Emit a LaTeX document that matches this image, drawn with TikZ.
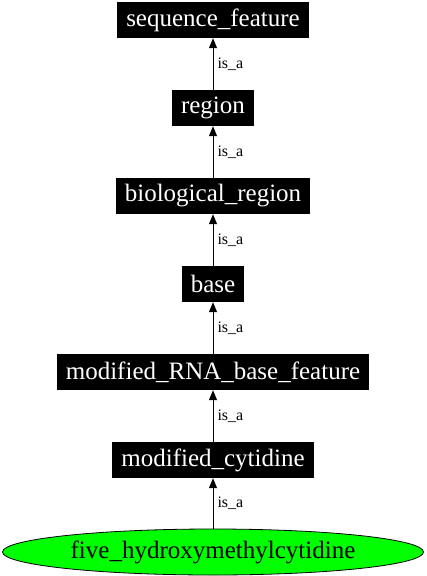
\documentclass[tikz,border=0pt]{standalone}
\usepackage{fontspec}
\setmainfont{Liberation Serif}
\usetikzlibrary{arrows.meta,shapes.geometric}

\begin{document}
\begin{tikzpicture}[x=1pt,y=1pt,
  termbox/.style={fill=black,text=white,inner xsep=9pt,inner ysep=0pt,minimum height=36pt,font=\fontsize{25}{30}\selectfont},
  leafnode/.style={ellipse,draw=black,line width=0.8pt,fill=green,minimum width=421pt,minimum height=46pt,inner sep=0pt,font=\fontsize{25}{30}\selectfont},
  isa/.style={-{Triangle[length=10pt,width=8pt]},black,line width=1pt},
  isalabel/.style={right,inner sep=4pt,font=\fontsize{16}{18}\selectfont}]
\useasboundingbox (0,0) rectangle (427,-576);
% terms, top to bottom
\node [termbox] (seqfeat) at (213,-20) {sequence\_feature};
\node [termbox] (region) at (213,-108) {region};
\node [termbox] (bioreg) at (213,-196) {biological\_region};
\node [termbox] (base) at (213,-284) {base};
\node [termbox] (modrna) at (213,-372) {modified\_RNA\_base\_feature};
\node [termbox] (modcyt) at (213,-460) {modified\_cytidine};
\node [leafnode] (fivehm) at (213,-552) {five\_hydroxymethylcytidine};
% is_a edges
\draw [isa] (region) -- node [isalabel] {is\_a} (seqfeat);
\draw [isa] (bioreg) -- node [isalabel] {is\_a} (region);
\draw [isa] (base) -- node [isalabel] {is\_a} (bioreg);
\draw [isa] (modrna) -- node [isalabel] {is\_a} (base);
\draw [isa] (modcyt) -- node [isalabel] {is\_a} (modrna);
\draw [isa] (fivehm) -- node [isalabel] {is\_a} (modcyt);
\end{tikzpicture}
\end{document}
